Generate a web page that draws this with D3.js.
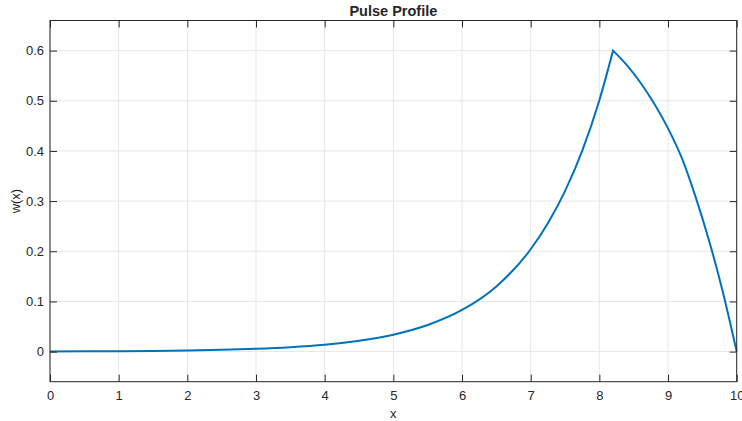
<!DOCTYPE html>
<html>
<head>
<meta charset="utf-8">
<script src="https://cdn.jsdelivr.net/npm/d3@7"></script>
<style>
  body { margin: 0; background: #fff; }
  text { font-family: "Liberation Sans", Arial, Helvetica, sans-serif; fill: #262626; }
</style>
</head>
<body>
<div id="chart"></div>
<script>
// values
var riseX = [0, 0.5, 1, 1.5, 2, 2.5, 3, 3.5, 4, 4.5, 5, 5.5, 6, 6.5, 7, 7.25, 7.5, 7.75, 8, 8.2];
var riseY = [0.0004, 0.0006, 0.0009, 0.0014, 0.0023, 0.0036, 0.0056, 0.0088, 0.0137, 0.0215,
             0.0337, 0.053, 0.083, 0.130, 0.204, 0.256, 0.320, 0.400, 0.501, 0.600];
var fallX = [8.2, 8.4, 8.6, 8.8, 9, 9.2, 9.4, 9.6, 9.8, 10];
var fallY = [0.600, 0.571, 0.536, 0.494, 0.445, 0.386, 0.309, 0.220, 0.118, 0];
var xTicks = [0, 1, 2, 3, 4, 5, 6, 7, 8, 9, 10];
var yTicks = [0, 0.1, 0.2, 0.3, 0.4, 0.5, 0.6];

var W = 742, H = 421;
var pLeft = 50, pRight = 736.7, pTop = 20.5, pBottom = 381.7;
var tickLen = 7;
var axisColor = "#262626", gridColor = "#e6e6e6";

var x = d3.scaleLinear().domain([0, 10]).range([pLeft, pRight]);
var y = d3.scaleLinear().domain([-0.06, 0.66]).range([pBottom, pTop]);

var svg = d3.select("#chart").append("svg")
    .attr("width", W)
    .attr("height", H);

// grid
svg.append("g").selectAll("line").data(xTicks).enter().append("line")
    .attr("x1", d => x(d)).attr("x2", d => x(d))
    .attr("y1", pTop).attr("y2", pBottom)
    .style("stroke", gridColor).style("stroke-width", 1);
svg.append("g").selectAll("line").data(yTicks).enter().append("line")
    .attr("x1", pLeft).attr("x2", pRight)
    .attr("y1", d => y(d)).attr("y2", d => y(d))
    .style("stroke", gridColor).style("stroke-width", 1);

// curve: rising part and falling part joined at the sharp peak
var rise = riseX.map((v, i) => [v, riseY[i]]);
var fall = fallX.map((v, i) => [v, fallY[i]]);
var line = d3.line().x(d => x(d[0])).y(d => y(d[1])).curve(d3.curveMonotoneX);
var pathStr = line(rise) + line(fall).replace(/^M/, "L");

svg.append("path")
    .attr("d", pathStr)
    .style("fill", "none")
    .style("stroke", "#0072BD")
    .style("stroke-width", 2)
    .style("stroke-linejoin", "miter");

// axes (box with inward ticks)
var bottomAxis = d3.axisBottom(x).tickValues(xTicks).tickSizeInner(-tickLen).tickSizeOuter(0).tickPadding(9);
var topAxis = d3.axisTop(x).tickValues(xTicks).tickSizeInner(-tickLen).tickSizeOuter(0).tickFormat("");
var leftAxis = d3.axisLeft(y).tickValues(yTicks).tickSizeInner(-tickLen).tickSizeOuter(0).tickPadding(6)
    .tickFormat(d => d === 0 ? "0" : d3.format(".1f")(d));
var rightAxis = d3.axisRight(y).tickValues(yTicks).tickSizeInner(-tickLen).tickSizeOuter(0).tickFormat("");

function styleAxis(g) {
  g.select(".domain").remove();
  g.selectAll("line").style("stroke", axisColor);
  g.selectAll("text").style("font-size", "13px").style("fill", axisColor)
   .style("font-family", "'Liberation Sans', Arial, sans-serif");
}

svg.append("g").attr("transform", "translate(0," + pBottom + ")").call(bottomAxis).call(styleAxis);
svg.append("g").attr("transform", "translate(0," + pTop + ")").call(topAxis).call(styleAxis);
svg.append("g").attr("transform", "translate(" + pLeft + ",0)").call(leftAxis).call(styleAxis);
svg.append("g").attr("transform", "translate(" + pRight + ",0)").call(rightAxis).call(styleAxis);

svg.append("rect")
    .attr("x", pLeft).attr("y", pTop)
    .attr("width", pRight - pLeft).attr("height", pBottom - pTop)
    .style("fill", "none").style("stroke", axisColor).style("stroke-width", 1);

// labels
svg.append("text")
    .attr("x", (pLeft + pRight) / 2).attr("y", 16)
    .attr("text-anchor", "middle")
    .style("font-size", "14.5px").style("font-weight", "bold")
    .text("Pulse Profile");

svg.append("text")
    .attr("x", (pLeft + pRight) / 2).attr("y", 418)
    .attr("text-anchor", "middle")
    .style("font-size", "13px")
    .text("x");

svg.append("text")
    .attr("transform", "translate(20," + ((pTop + pBottom) / 2) + ") rotate(-90)")
    .attr("text-anchor", "middle")
    .style("font-size", "13px")
    .text("w(x)");
</script>
</body>
</html>
